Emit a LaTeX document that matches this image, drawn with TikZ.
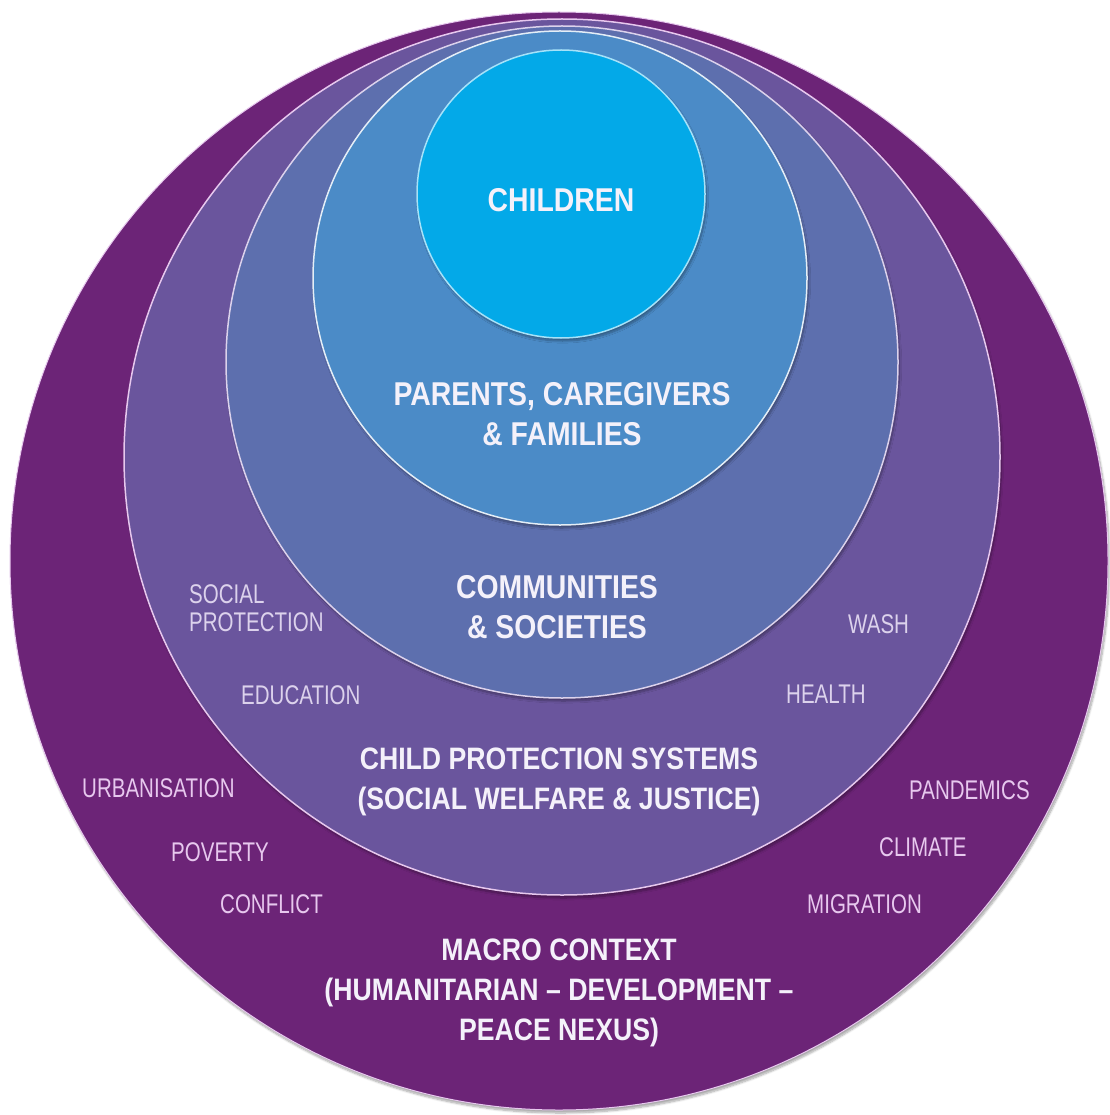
\documentclass[tikz,border=0pt]{standalone}
\usepackage{fontspec}
\setmainfont{Liberation Sans}
\newfontfamily\headfont{Liberation Sans}[FakeStretch=0.86]
\newfontfamily\tagfont{Liberation Sans}[FakeStretch=0.76]
\usetikzlibrary{shadows.blur}

\definecolor{macrocol}{HTML}{6C2477}
\definecolor{systemcol}{HTML}{6A559D}
\definecolor{commcol}{HTML}{5D6FAE}
\definecolor{parentcol}{HTML}{4B8BC7}
\definecolor{childcol}{HTML}{03A9E8}
\definecolor{headtext}{HTML}{F4F1FA}
\definecolor{systag}{HTML}{DCD2EC}
\definecolor{macrotag}{HTML}{E7C8EE}

\tikzset{
  ring/.style={blur shadow={shadow xshift=1.5pt,shadow yshift=-3pt,shadow blur steps=8,shadow opacity=35}},
  headline/.style={font={\headfont\bfseries\fontsize{#1}{40}\selectfont},text=headtext,
    align=center,anchor=north,inner sep=0pt},
  tag/.style={font={\tagfont\fontsize{27}{28}\selectfont},align=left,anchor=north west,inner sep=0pt},
}

\begin{document}
\begin{tikzpicture}[x=1pt,y=-1pt]
\useasboundingbox (0,0) rectangle (1109,1115);
	%rings
	\fill[macrocol,ring,draw=macrotag,line width=1pt] (559,561) circle[radius=549pt];
	\fill[systemcol,ring,draw=macrotag,line width=1.5pt] (562,457) circle[radius=438pt];
	\fill[commcol,ring,draw=systag,line width=1.5pt] (562,362) circle[radius=336pt];
	\fill[parentcol,ring,draw=white!85!parentcol,line width=1.5pt] (560,278) circle[radius=247pt];
	\fill[childcol,ring,draw=cyan!35!white,line width=1.5pt] (561,194) circle[radius=144pt];
	%labels
\node[headline=33] (children) at (561,188) {CHILDREN};
\node[headline=33] (parents) at (562,382) {PARENTS, CAREGIVERS\\\& FAMILIES};
\node[headline=33] (communities) at (557,575) {COMMUNITIES\\\& SOCIETIES};
\node[headline=31] (systems) at (559,748) {CHILD PROTECTION SYSTEMS\\(SOCIAL WELFARE \& JUSTICE)};
\node[headline=31] (macro) at (559,939) {MACRO CONTEXT\\(HUMANITARIAN \textendash{} DEVELOPMENT \textendash\\PEACE NEXUS)};
	%sectors
	\foreach \x/\y/\n/\t in {189/584/socprot/{SOCIAL\\PROTECTION},241/685/education/EDUCATION,
		848/614/wash/WASH,786/685/health/HEALTH}
		\node[tag,text=systag] (\n) at (\x,\y) {\t};
	%drivers
	\foreach \x/\y/\n/\t in {82/778/urban/URBANISATION,171/842/poverty/POVERTY,220/894/conflict/CONFLICT,
		909/780/pandemics/PANDEMICS,879/837/climate/CLIMATE,807/894/migration/MIGRATION}
		\node[tag,text=macrotag] (\n) at (\x,\y) {\t};
\end{tikzpicture}
\end{document}
